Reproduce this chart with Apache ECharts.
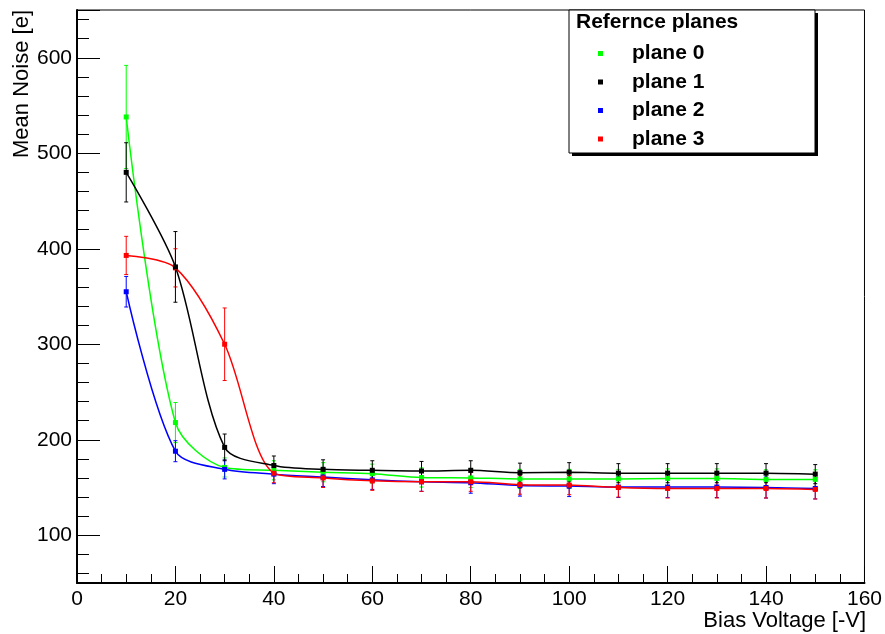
<!DOCTYPE html>
<html>
<head>
<meta charset="utf-8">
<script src="https://cdn.jsdelivr.net/npm/echarts@6/dist/echarts.min.js"></script>
<style>html,body{margin:0;padding:0;background:#fff}#c{width:885px;height:634px}</style>
</head>
<body>
<div id="c"></div>
<script>
var voltages = [10,20,30,40,50,60,70,80,90,100,110,120,130,140,150];
var plane0 = [538,218,171,168,166,164.5,160.5,160,159,159,159,159.5,159.5,158.5,158.5];
var plane0Err = [54,21,10,10,10,10,10,10,10,10,10,10,10,10,10];
var plane1 = [480,381,192,173,169,168,167.3,168,165.5,166,165,165,165,165,164];
var plane1Err = [31,37,14,10,10,10,10,10,10,10,10,10,10,10,10];
var plane2 = [355,188,169,164,161,158,156,155,152,151.5,150.5,150.5,150.5,150,149];
var plane2Err = [16,11,10,10,10,10,10,11,11,11,11,11,11,11,11];
var plane3 = [393,380,300,165,160,157,156,156,153,152.5,150,149,149,149,148];
var plane3Err = [20,20,38,10,10,10,10,10,10,10,10,10,10,10,10];
var seriesNames = ['plane 0','plane 1','plane 2','plane 3'];
var yTickLabels = [100,200,300,400,500,600];
var xTickLabels = [0,20,40,60,80,100,120,140,160];

var FONT = 'Liberation Sans, Arial, Helvetica, sans-serif';
var colors = ['#00ff00','#000000','#0000ff','#ff0000'];
var values = [plane0, plane1, plane2, plane3];
var errs = [plane0Err, plane1Err, plane2Err, plane3Err];

function lineData(v){ return voltages.map(function(x,i){ return [x, v[i]]; }); }
function errData(v,e){ return voltages.map(function(x,i){ return [x, v[i], e[i]]; }); }

function errRender(color){
  return function(params, api){
    var x = api.value(0), y = api.value(1), e = api.value(2);
    var t = api.coord([x, y + e]), b = api.coord([x, y - e]);
    var c = 2;
    var st = {stroke: color, lineWidth: 1};
    return {type:'group', children:[
      {type:'line', shape:{x1:t[0], y1:t[1], x2:b[0], y2:b[1]}, style:st},
      {type:'line', shape:{x1:t[0]-c, y1:t[1], x2:t[0]+c, y2:t[1]}, style:st},
      {type:'line', shape:{x1:b[0]-c, y1:b[1], x2:b[0]+c, y2:b[1]}, style:st}
    ]};
  };
}

var series = [];
var order = [0,2,3,1];
order.forEach(function(i){
  series.push({
    name: seriesNames[i] + ' err', type:'custom',
    data: errData(values[i], errs[i]),
    renderItem: errRender(colors[i]), z: 2, silent: true
  });
});
order.forEach(function(i){
  series.push({
    name: seriesNames[i], type:'line', smooth: 0.3,
    data: lineData(values[i]),
    symbol:'rect', symbolSize:5, showSymbol:true,
    itemStyle:{color: colors[i]},
    lineStyle:{color: colors[i], width:1.5},
    z: 3
  });
});

var chart = echarts.init(document.getElementById('c'));
chart.setOption({
  animation:false,
  backgroundColor:'#fff',
  grid:{left:77, right:19, top:10, bottom:51, show:true, borderColor:'#000', borderWidth:1},
  xAxis:{
    type:'value', min:0, max:160, interval:20,
    axisLine:{onZero:false, lineStyle:{color:'#000', width:2}},
    axisTick:{inside:true, length:17, lineStyle:{color:'#000', width:1}},
    minorTick:{show:true, splitNumber:4, length:9, lineStyle:{color:'#000', width:1}},
    splitLine:{show:false},
    axisLabel:{margin:6, fontSize:21, color:'#000', fontFamily:FONT,
      formatter:function(v){ return xTickLabels.indexOf(v) >= 0 ? String(v) : ''; }}
  },
  yAxis:{
    type:'value', min:50, max:650,
    axisLine:{onZero:false, lineStyle:{color:'#000', width:2}},
    axisTick:{inside:true, length:23, lineStyle:{color:'#000', width:1}},
    minorTick:{show:true, splitNumber:5, length:12, lineStyle:{color:'#000', width:1}},
    splitLine:{show:false},
    axisLabel:{margin:5, fontSize:21, color:'#000', fontFamily:FONT, showMinLabel:false, showMaxLabel:false,
      formatter:function(v){ return yTickLabels.indexOf(v) >= 0 ? String(v) : ''; }}
  },
  legend:{
    data: seriesNames, orient:'vertical', left:593, top:38,
    icon:'rect', itemWidth:5, itemHeight:5, itemGap:7.5,
    textStyle:{fontSize:21, fontWeight:'bold', color:'#000', fontFamily:FONT, lineHeight:21, padding:[0,0,0,24]},
    z: 6
  },
  graphic:[
    {type:'rect', z:4, shape:{x:572, y:13, width:246, height:143}, style:{fill:'#000'}},
    {type:'rect', z:5, shape:{x:569, y:10, width:246, height:143},
      style:{fill:'#fff', stroke:'#000', lineWidth:1}},
    {type:'text', z:6, x:576, y:22, style:{text:'Refernce planes', font:'bold 21px ' + FONT, fill:'#000', textAlign:'left', textVerticalAlign:'middle'}},
    {type:'text', z:6, x:866, y:621, style:{text:'Bias Voltage [-V]', font:'22px ' + FONT, fill:'#000', textAlign:'right', textVerticalAlign:'middle'}},
    {type:'text', z:6, x:22, y:10, rotation:Math.PI/2, style:{text:'Mean Noise [e]', font:'22px ' + FONT, fill:'#000', textAlign:'right', textVerticalAlign:'middle'}}
  ],
  series: series
});
</script>
</body>
</html>
